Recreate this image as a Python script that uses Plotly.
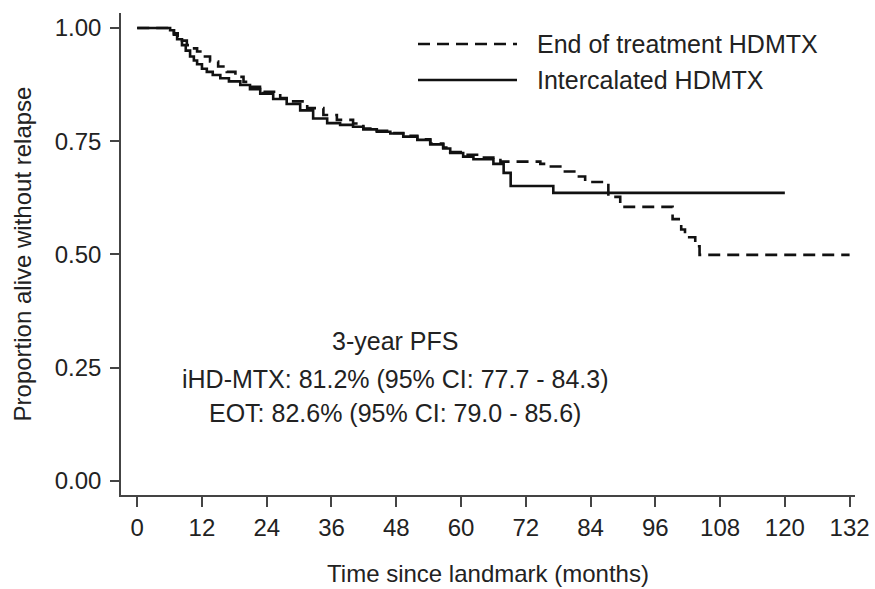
import plotly.graph_objects as go

# Intercalated HDMTX (solid)
ihd_t = [0, 6.1, 6.8, 7.4, 8.3, 9.0, 9.8, 10.5, 11.1, 12.0, 12.9, 14.0, 15.4, 17.0,
         19.1, 20.9, 22.8, 25.2, 27.7, 30.2, 32.6, 35.2, 37.6, 40.0, 41.9, 44.4,
         46.9, 49.3, 51.9, 54.3, 56.7, 58.0, 60.4, 62.3, 66.0, 67.9, 69.2, 77.1, 120]
ihd_s = [1.0, 0.995, 0.985, 0.975, 0.962, 0.950, 0.937, 0.928, 0.920, 0.910, 0.903,
         0.896, 0.889, 0.882, 0.874, 0.865, 0.855, 0.843, 0.832, 0.818, 0.800, 0.790,
         0.786, 0.782, 0.776, 0.771, 0.767, 0.760, 0.753, 0.743, 0.734, 0.724, 0.716,
         0.710, 0.700, 0.680, 0.651, 0.636, 0.636]

# End of treatment HDMTX (dashed)
eot_t = [0, 6.1, 6.8, 7.5, 8.3, 9.2, 10.2, 11.1, 12.3, 13.5, 15.0, 16.6, 18.2, 19.7,
         21.0, 23.4, 26.5, 28.9, 31.5, 34.5, 37.0, 40.0, 41.9, 44.4, 46.9, 49.3, 51.9,
         54.3, 56.7, 58.0, 60.4, 63.6, 67.3, 74.7, 76.0, 78.4, 81.6, 83.0, 87.3, 89.5,
         99.2, 100.8, 101.5, 103.4, 104.2, 132]
eot_s = [1.0, 0.995, 0.988, 0.980, 0.972, 0.962, 0.955, 0.948, 0.937, 0.926, 0.915,
         0.903, 0.892, 0.881, 0.870, 0.859, 0.845, 0.838, 0.823, 0.808, 0.797, 0.789,
         0.778, 0.773, 0.768, 0.762, 0.754, 0.745, 0.736, 0.726, 0.720, 0.714, 0.705,
         0.700, 0.694, 0.683, 0.672, 0.660, 0.627, 0.605, 0.578, 0.555, 0.538, 0.518,
         0.499, 0.499]

x_ticks = [0, 12, 24, 36, 48, 60, 72, 84, 96, 108, 120, 132]
y_ticks = [0, 0.25, 0.5, 0.75, 1.0]
y_labels = ["0.00", "0.25", "0.50", "0.75", "1.00"]

legend_names = ["End of treatment HDMTX", "Intercalated HDMTX"]
pfs_lines = ["3-year PFS",
             "iHD-MTX: 81.2% (95% CI: 77.7 - 84.3)",
             "EOT: 82.6% (95% CI: 79.0 - 85.6)"]

FONT = "Liberation Sans, Arial, sans-serif"
INK = "#111111"
TXT = "#222222"

fig = go.Figure()
fig.add_trace(go.Scatter(x=eot_t, y=eot_s, mode="lines", line_shape="hv",
                         name=legend_names[0],
                         line=dict(color=INK, width=2.6, dash="12px,7px")))
fig.add_trace(go.Scatter(x=ihd_t, y=ihd_s, mode="lines", line_shape="hv",
                         name=legend_names[1],
                         line=dict(color=INK, width=2.6)))

# manual legend (long line samples as in the reference)
leg_y = [44, 80]
for i, (nm, dash) in enumerate(zip(legend_names, ["12px,7px", "solid"])):
    yp = (589 - leg_y[i] - 94) / 482
    fig.add_shape(type="line", xref="paper", yref="paper",
                  x0=(418 - 121) / 734, x1=(517 - 121) / 734, y0=yp, y1=yp,
                  line=dict(color=INK, width=2.6, dash=dash))
    fig.add_annotation(xref="paper", yref="paper",
                       x=(535 - 121) / 734, y=yp,
                       text=nm, showarrow=False, xanchor="left", yanchor="middle",
                       font=dict(family=FONT, size=25, color=TXT))

ann_y = [341, 379, 413]
for txt, yy in zip(pfs_lines, ann_y):
    fig.add_annotation(xref="paper", yref="paper",
                       x=(395 - 121) / 734, y=(589 - yy - 94) / 482,
                       text=txt, showarrow=False, xanchor="center", yanchor="middle",
                       font=dict(family=FONT, size=25, color=TXT))

fig.update_layout(
    width=875, height=589,
    margin=dict(l=121, r=20, t=13, b=94),
    paper_bgcolor="white", plot_bgcolor="white",
    showlegend=False,
    font=dict(family=FONT, size=24, color=TXT),
    xaxis=dict(range=[-3, 133], tickvals=x_ticks, ticks="outside", ticklen=10,
               tickwidth=1.5, tickcolor="#444", showline=True, linecolor="#444",
               linewidth=1.5, showgrid=False, zeroline=False, automargin=False,
               title=dict(text="Time since landmark (months)", standoff=26,
                          font=dict(size=24)),
               tickfont=dict(size=24)),
    yaxis=dict(range=[-0.031, 1.033], tickvals=y_ticks, ticktext=y_labels,
               ticks="outside", ticklen=9, tickwidth=1.5, tickcolor="#444",
               showline=True, linecolor="#444", linewidth=1.5, showgrid=False,
               zeroline=False, ticklabelstandoff=4, automargin=False,
               title=dict(text="Proportion alive without relapse", standoff=16,
                          font=dict(size=24)),
               tickfont=dict(size=24)),
)

fig.write_html("out.html")
